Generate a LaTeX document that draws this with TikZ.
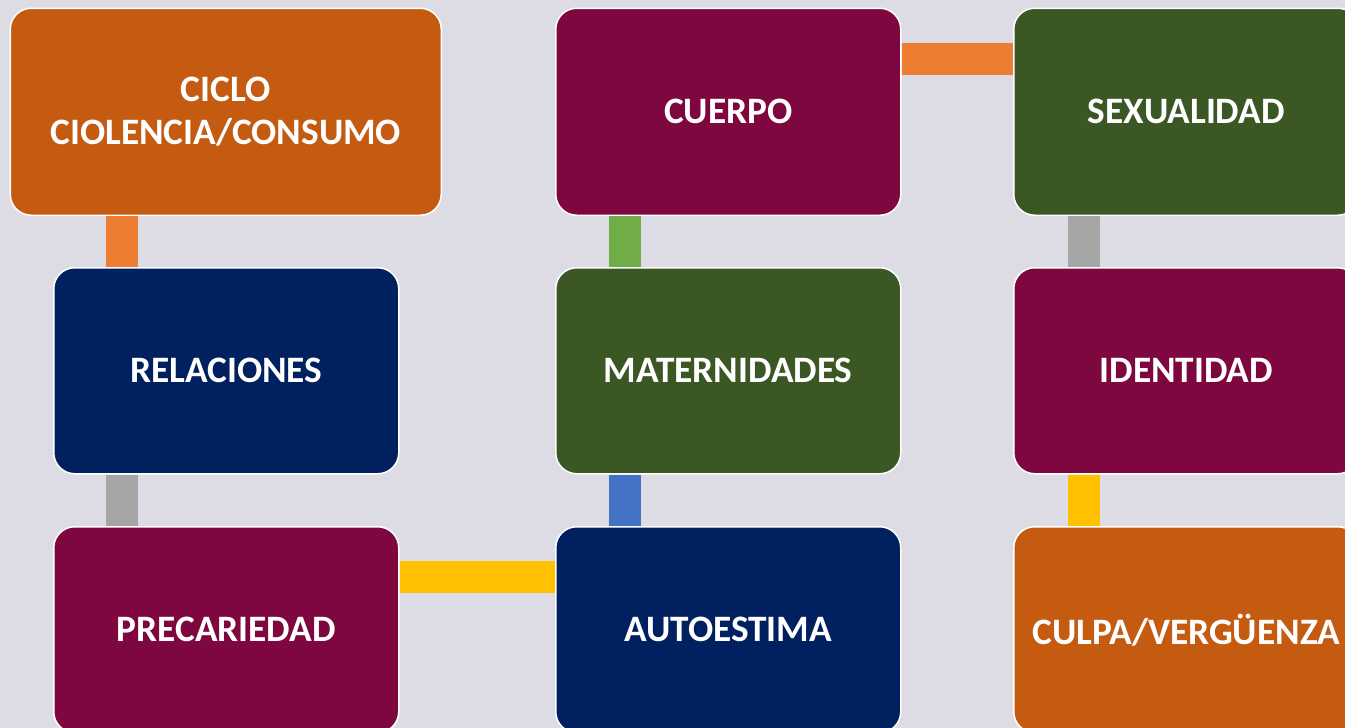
\documentclass[tikz,border=0pt]{standalone}
\usepackage{fontspec}
\setmainfont{Carlito}
\definecolor{bg}{RGB}{221,220,228}
\definecolor{borange}{HTML}{C55A11}
\definecolor{maroon}{HTML}{7F0740}
\definecolor{navy}{HTML}{002060}
\definecolor{dgreen}{HTML}{3A5724}
\definecolor{corange}{HTML}{ED7D31}
\definecolor{cgreen}{HTML}{70AD47}
\definecolor{cgray}{HTML}{A5A5A5}
\definecolor{cblue}{HTML}{4472C4}
\definecolor{cyellow}{HTML}{FFC000}
\begin{document}
\begin{tikzpicture}[x=1pt,y=-1pt,
  box/.style={draw=white,line width=1.5pt,rounded corners=21pt,minimum width=345pt,minimum height=206pt,
    anchor=north west,text=white,font=\fontsize{37.3}{43}\selectfont\bfseries,align=center,inner sep=0pt},
  conn/.style={line width=31.7pt}]
\useasboundingbox (0,0) rectangle (1345,728);
\clip (0,0) rectangle (1345,728);
\fill[bg] (0,0) rectangle (1345,728);
\node[box,fill=borange,minimum width=431pt,minimum height=207pt] (ciclo) at (9.5,7.5) {CICLO\\CIOLENCIA/CONSUMO};
\node[box,fill=maroon,minimum height=207pt] (cuerpo) at (555,7.5) {CUERPO};
\node[box,fill=dgreen,minimum height=207pt] (sex) at (1013,7.5) {SEXUALIDAD};
\node[box,fill=navy] (rel) at (53,267) {RELACIONES};
\node[box,fill=dgreen] (mat) at (555,267) {MATERNIDADES};
\node[box,fill=maroon] (ident) at (1013,267) {IDENTIDAD};
\node[box,fill=maroon] (prec) at (53,526) {PRECARIEDAD};
\node[box,fill=navy] (auto) at (555,526) {AUTOESTIMA};
\node[box,fill=borange] (culpa) at (1013,526) {CULPA/VERGÜENZA};
% connectors
\draw[conn,corange] ([xshift=69pt]rel.north west) -- ([xshift=69pt]rel.north west |- ciclo.south);
\draw[conn,cgreen] ([xshift=70pt]mat.north west) -- ([xshift=70pt]mat.north west |- cuerpo.south);
\draw[conn,cgray] ([xshift=71pt]ident.north west) -- ([xshift=71pt]ident.north west |- sex.south);
\draw[conn,cgray] ([xshift=69pt]prec.north west) -- ([xshift=69pt]prec.north west |- rel.south);
\draw[conn,cblue] ([xshift=70pt]auto.north west) -- ([xshift=70pt]auto.north west |- mat.south);
\draw[conn,cyellow] ([xshift=71pt]culpa.north west) -- ([xshift=71pt]culpa.north west |- ident.south);
\draw[conn,corange] ([yshift=-51.5pt]cuerpo.north east) -- ([yshift=-51.5pt]cuerpo.north east -| sex.west);
\draw[conn,cyellow] ([yshift=-51pt]prec.north east) -- ([yshift=-51pt]prec.north east -| auto.west);
\end{tikzpicture}
\end{document}
